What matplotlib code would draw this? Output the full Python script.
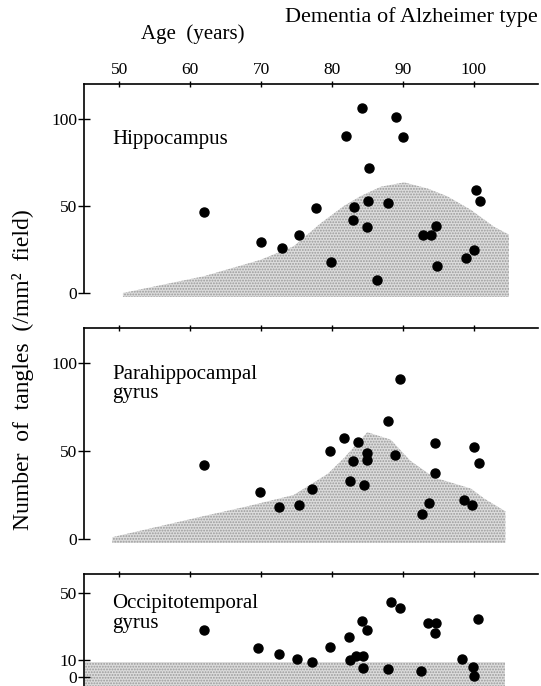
import matplotlib.pyplot as plt

plt.rcParams['font.family'] = ['Liberation Serif', 'DejaVu Serif']
plt.rcParams['hatch.color'] = '#9a9a9a'
plt.rcParams['hatch.linewidth'] = 0.9

# tangle counts (age in years, tangles per mm2 field)
hip_age = [62.0, 70.0, 73.0, 75.4, 77.8, 79.9, 82.0, 83.1, 83.0, 84.3, 85.2, 85.1, 84.9,
           86.3, 87.9, 89.1, 90.0, 92.9, 94.0, 94.7, 94.9, 99.0, 100.0, 100.4, 100.9]
hip_val = [46.3, 29.3, 25.8, 33.3, 48.6, 17.6, 90.2, 49.5, 41.7, 106.5, 71.9, 52.6, 37.7,
           7.3, 51.4, 100.8, 89.3, 33.5, 33.1, 38.2, 15.3, 20.1, 24.9, 59.3, 52.6]

para_age = [62.0, 69.9, 72.5, 75.3, 77.2, 79.8, 81.7, 83.7, 83.0, 82.6, 84.9, 84.9,
            84.6, 87.9, 88.9, 89.6, 94.6, 94.6, 93.7, 92.7, 98.7, 99.8, 100.1, 100.7]
para_val = [42.0, 26.7, 18.1, 19.3, 28.7, 49.8, 57.4, 55.4, 44.3, 33.1, 48.7, 44.8,
            30.9, 67.0, 47.6, 91.1, 54.8, 37.6, 20.4, 14.4, 22.4, 19.1, 52.2, 43.0]

occ_age = [62.0, 69.5, 72.6, 75.1, 77.2, 79.8, 82.4, 82.6, 83.4, 84.4, 84.2, 84.9,
           84.4, 87.9, 88.4, 89.6, 92.6, 93.5, 94.7, 94.6, 98.4, 99.9, 100.0, 100.6]
occ_val = [27.8, 16.9, 13.4, 10.4, 8.7, 17.9, 23.8, 10.0, 12.4, 12.6, 33.1, 27.8,
           5.5, 4.7, 44.5, 40.6, 3.7, 31.7, 32.1, 25.8, 10.4, 6.1, 0.8, 34.3]

# shaded (control) ranges: upper envelope
hip_env_age = [50.5, 61.9, 69.9, 74.6, 78.4, 81.7, 84.0, 86.9, 90.2, 93.5, 96.3, 99.6, 102.9, 105.0]
hip_env_val = [0.0, 9.6, 19.0, 26.8, 40.0, 50.0, 55.5, 61.0, 63.5, 60.0, 55.5, 47.8, 38.0, 33.5]

para_env_age = [49.0, 61.9, 68.0, 74.6, 79.4, 81.7, 85.0, 88.3, 91.1, 94.4, 99.6, 101.5, 104.5]
para_env_val = [1.0, 13.0, 18.5, 25.0, 37.0, 46.0, 60.7, 56.5, 44.4, 35.0, 28.7, 23.0, 15.7]

occ_env_age = [45.2, 104.5]
occ_env_val = [9.0, 9.0]

x_ticks = [50, 60, 70, 80, 90, 100]

fig = plt.figure(figsize=(5.41, 6.86), dpi=100)
W, H = 541, 686


def add_panel(top, bottom, ylim):
    ax = fig.add_axes([84 / W, 1 - bottom / H, (538 - 84) / W, (bottom - top) / H])
    ax.set_xlim(45.0, 109.1)
    ax.set_ylim(*ylim)
    ax.spines['right'].set_visible(False)
    ax.spines['bottom'].set_visible(False)
    ax.spines['top'].set_linewidth(1.2)
    ax.spines['left'].set_linewidth(1.2)
    ax.xaxis.set_ticks_position('top')
    ax.set_xticks(x_ticks)
    ax.tick_params(axis='x', direction='inout', length=5, width=1.0, pad=2, labelsize=12.5)
    ax.tick_params(axis='y', direction='inout', length=8, width=1.0, pad=1, labelsize=12.5)
    return ax


def shade(ax, ages, vals, floor):
    ax.fill_between(ages, floor, vals, facecolor='#dcdcdc', hatch='......',
                    edgecolor='#9a9a9a', linewidth=0)


ax1 = add_panel(84, 297, (-2.3, 120))
shade(ax1, hip_env_age, hip_env_val, -2.3)
ax1.plot(hip_age, hip_val, 'o', color='black', markersize=6.5)
ax1.set_yticks([0, 50, 100])
ax1.spines['left'].set_bounds(0, 120)
ax1.text(0.062, 0.74, 'Hippocampus', transform=ax1.transAxes, fontsize=15, va='center')

ax2 = add_panel(328, 543, (-2.3, 120))
shade(ax2, para_env_age, para_env_val, -2.3)
ax2.plot(para_age, para_val, 'o', color='black', markersize=6.5)
ax2.set_yticks([0, 50, 100])
ax2.spines['left'].set_bounds(0, 120)
ax2.tick_params(axis='x', labeltop=False)
ax2.text(0.062, 0.74, 'Parahippocampal\ngyrus', transform=ax2.transAxes, fontsize=15,
         va='center', linespacing=1.05)

ax3 = add_panel(574, 686, (-5.3, 61))
shade(ax3, occ_env_age, occ_env_val, -5.3)
ax3.plot(occ_age, occ_val, 'o', color='black', markersize=6.5)
ax3.set_yticks([0, 10, 50])
ax3.tick_params(axis='x', labeltop=False)
ax3.text(0.062, 0.65, 'Occipitotemporal\ngyrus', transform=ax3.transAxes, fontsize=15,
         va='center', linespacing=1.05)

fig.text(538 / W, 1 - 17 / H, 'Dementia of Alzheimer type', ha='right', va='center', fontsize=16)
fig.text(193 / W, 1 - 34 / H, 'Age  (years)', ha='center', va='center', fontsize=15)
fig.text(23 / W, 1 - 370 / H, 'Number  of  tangles  (/mm²  field)', rotation=90,
         ha='center', va='center', fontsize=17)

plt.savefig('out.png', dpi=100)
